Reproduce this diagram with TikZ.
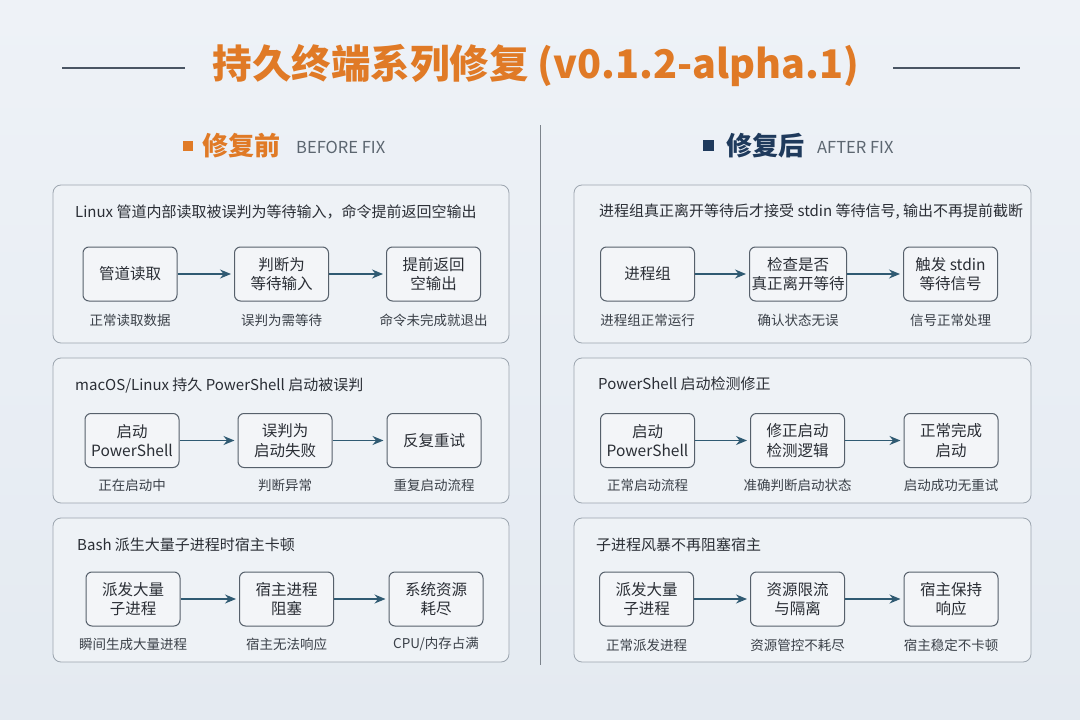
\documentclass[tikz,border=0pt]{standalone}
\usepackage{fontspec}
\setmainfont{Noto Sans CJK SC}
\usetikzlibrary{arrows.meta,positioning}
\definecolor{bgtop}{HTML}{EEF2F7}
\definecolor{bgbot}{HTML}{E4EAF1}
\definecolor{orangeT}{HTML}{E07A26}
\definecolor{navyT}{HTML}{1F3A5C}
\definecolor{panelfill}{HTML}{EEF2F6}
\definecolor{panelline}{HTML}{9CA5AF}
\definecolor{boxfill}{HTML}{F3F5F8}
\definecolor{boxline}{HTML}{56606B}
\definecolor{arrowc}{HTML}{2F5A72}
\definecolor{txt}{HTML}{2A2E35}
\definecolor{captxt}{HTML}{3A4048}
\definecolor{subtxt}{HTML}{5C6670}
\definecolor{rulec}{HTML}{4A5563}
\tikzset{
  panel/.style={draw=panelline, line width=0.8pt, fill=panelfill, rounded corners=8pt},
  stepbox/.style={draw=boxline, line width=1pt, fill=boxfill, rounded corners=6pt,
    minimum width=94pt, minimum height=54pt, align=center, inner sep=2pt,
    font=\fontsize{15.5}{19.5}\selectfont, text=txt},
  capnote/.style={font=\fontsize{13.5}{16}\selectfont, text=captxt},
  ptitle/.style={anchor=west, font=\fontsize{15}{18}\selectfont, text=txt, inner sep=0pt},
  flow/.style={-{Stealth[length=11pt,width=9pt]}, draw=arrowc, line width=1.4pt, shorten >=3pt},
}
\begin{document}
\begin{tikzpicture}[x=1pt,y=-1pt]
\useasboundingbox (0,0) rectangle (1080,720);
\shade[top color=bgtop, bottom color=bgbot] (0,0) rectangle (1080,720);

% title
\node (title) at (536,66) {\fontsize{39.5}{46}\selectfont\bfseries\color{orangeT}持久终端系列修复 (v0.1.2-alpha.1)};
\coordinate (tl1) at (62,68); \coordinate (tl2) at (185,68);
\coordinate (tr1) at (893,68); \coordinate (tr2) at (1020,68);
\draw[rulec, line width=1.2pt] (tl1) -- (tl2);
\draw[rulec, line width=1.2pt] (tr1) -- (tr2);

% headers
\fill[orangeT] (182.5,141) rectangle (192.5,151);
\node[anchor=west, inner sep=0pt] (hbefore) at (202,146) {\fontsize{26}{30}\selectfont\bfseries\color{orangeT}修复前};
\node[anchor=west, inner sep=0pt] (hbeforeE) at (296,147) {\fontsize{16.5}{18}\selectfont\color{subtxt}BEFORE FIX};
\fill[navyT] (703,140) rectangle (714,151);
\node[anchor=west, inner sep=0pt] (hafter) at (726,146) {\fontsize{26}{30}\selectfont\bfseries\color{navyT}修复后};
\node[anchor=west, inner sep=0pt] (hafterE) at (817,147) {\fontsize{16.5}{18}\selectfont\color{subtxt}AFTER FIX};

% divider
\coordinate (dv1) at (540,125); \coordinate (dv2) at (540,665);
\draw[draw=panelline!80!black, line width=1pt] (dv1) -- (dv2);

% panels
\draw[panel] (53,185) rectangle (509,343);
\draw[panel] (53,358) rectangle (509,503);
\draw[panel] (53,518) rectangle (509,662);
\draw[panel] (574,185) rectangle (1031,343);
\draw[panel] (574,358) rectangle (1031,503);
\draw[panel] (574,518) rectangle (1031,662);

% ---------- left panel 1
\node[ptitle] (lt1) at (75,212) {Linux 管道内部读取被误判为等待输入，命令提前返回空输出};
\node[stepbox] (la1) at (130,274) {管道读取};
\node[stepbox] (la2) at (281.5,274) {判断为\\等待输入};
\node[stepbox] (la3) at (433.5,274) {提前返回\\空输出};
\draw[flow] (la1) -- (la2);
\draw[flow] (la2) -- (la3);
\node[capnote] (lac1) at (130,320) {正常读取数据};
\node[capnote] (lac2) at (281.5,320) {误判为需等待};
\node[capnote] (lac3) at (433.5,320) {命令未完成就退出};

% ---------- left panel 2
\node[ptitle] (lt2) at (75,386) {macOS/Linux 持久 PowerShell 启动被误判};
\node[stepbox] (lb1) at (132,440.5) {启动\\PowerShell};
\node[stepbox] (lb2) at (285,440.5) {误判为\\启动失败};
\node[stepbox] (lb3) at (434,440.5) {反复重试};
\draw[flow] (lb1) -- (lb2);
\draw[flow] (lb2) -- (lb3);
\node[capnote] (lbc1) at (132,485) {正在启动中};
\node[capnote] (lbc2) at (285,485) {判断异常};
\node[capnote] (lbc3) at (434,485) {重复启动流程};

% ---------- left panel 3
\node[ptitle] (lt3) at (77,545) {Bash 派生大量子进程时宿主卡顿};
\node[stepbox] (lc1) at (133,599) {派发大量\\子进程};
\node[stepbox] (lc2) at (286.5,599) {宿主进程\\阻塞};
\node[stepbox] (lc3) at (436,599) {系统资源\\耗尽};
\draw[flow] (lc1) -- (lc2);
\draw[flow] (lc2) -- (lc3);
\node[capnote] (lcc1) at (133,644) {瞬间生成大量进程};
\node[capnote] (lcc2) at (286.5,644) {宿主无法响应};
\node[capnote] (lcc3) at (436,644) {CPU/内存占满};

% ---------- right panel 1
\node[ptitle] (rt1) at (599,212) {进程组真正离开等待后才接受 stdin 等待信号, 输出不再提前截断};
\node[stepbox] (ra1) at (647.5,274) {进程组};
\node[stepbox] (ra2) at (798,274) {检查是否\\真正离开等待};
\node[stepbox] (ra3) at (950.5,274) {触发 stdin\\等待信号};
\draw[flow] (ra1) -- (ra2);
\draw[flow] (ra2) -- (ra3);
\node[capnote] (rac1) at (647.5,320) {进程组正常运行};
\node[capnote] (rac2) at (798,320) {确认状态无误};
\node[capnote] (rac3) at (950.5,320) {信号正常处理};

% ---------- right panel 2
\node[ptitle] (rt2) at (598,384) {PowerShell 启动检测修正};
\node[stepbox] (rb1) at (647.5,440.5) {启动\\PowerShell};
\node[stepbox] (rb2) at (797.5,440.5) {修正启动\\检测逻辑};
\node[stepbox] (rb3) at (951,440.5) {正常完成\\启动};
\draw[flow] (rb1) -- (rb2);
\draw[flow] (rb2) -- (rb3);
\node[capnote] (rbc1) at (647.5,485) {正常启动流程};
\node[capnote] (rbc2) at (797.5,485) {准确判断启动状态};
\node[capnote] (rbc3) at (951,485) {启动成功无重试};

% ---------- right panel 3
\node[ptitle] (rt3) at (596,545) {子进程风暴不再阻塞宿主};
\node[stepbox] (rc1) at (646.5,599) {派发大量\\子进程};
\node[stepbox] (rc2) at (797.5,599) {资源限流\\与隔离};
\node[stepbox] (rc3) at (951,599) {宿主保持\\响应};
\draw[flow] (rc1) -- (rc2);
\draw[flow] (rc2) -- (rc3);
\node[capnote] (rcc1) at (646.5,645) {正常派发进程};
\node[capnote] (rcc2) at (797.5,645) {资源管控不耗尽};
\node[capnote] (rcc3) at (951,645) {宿主稳定不卡顿};
\end{tikzpicture}
\end{document}
